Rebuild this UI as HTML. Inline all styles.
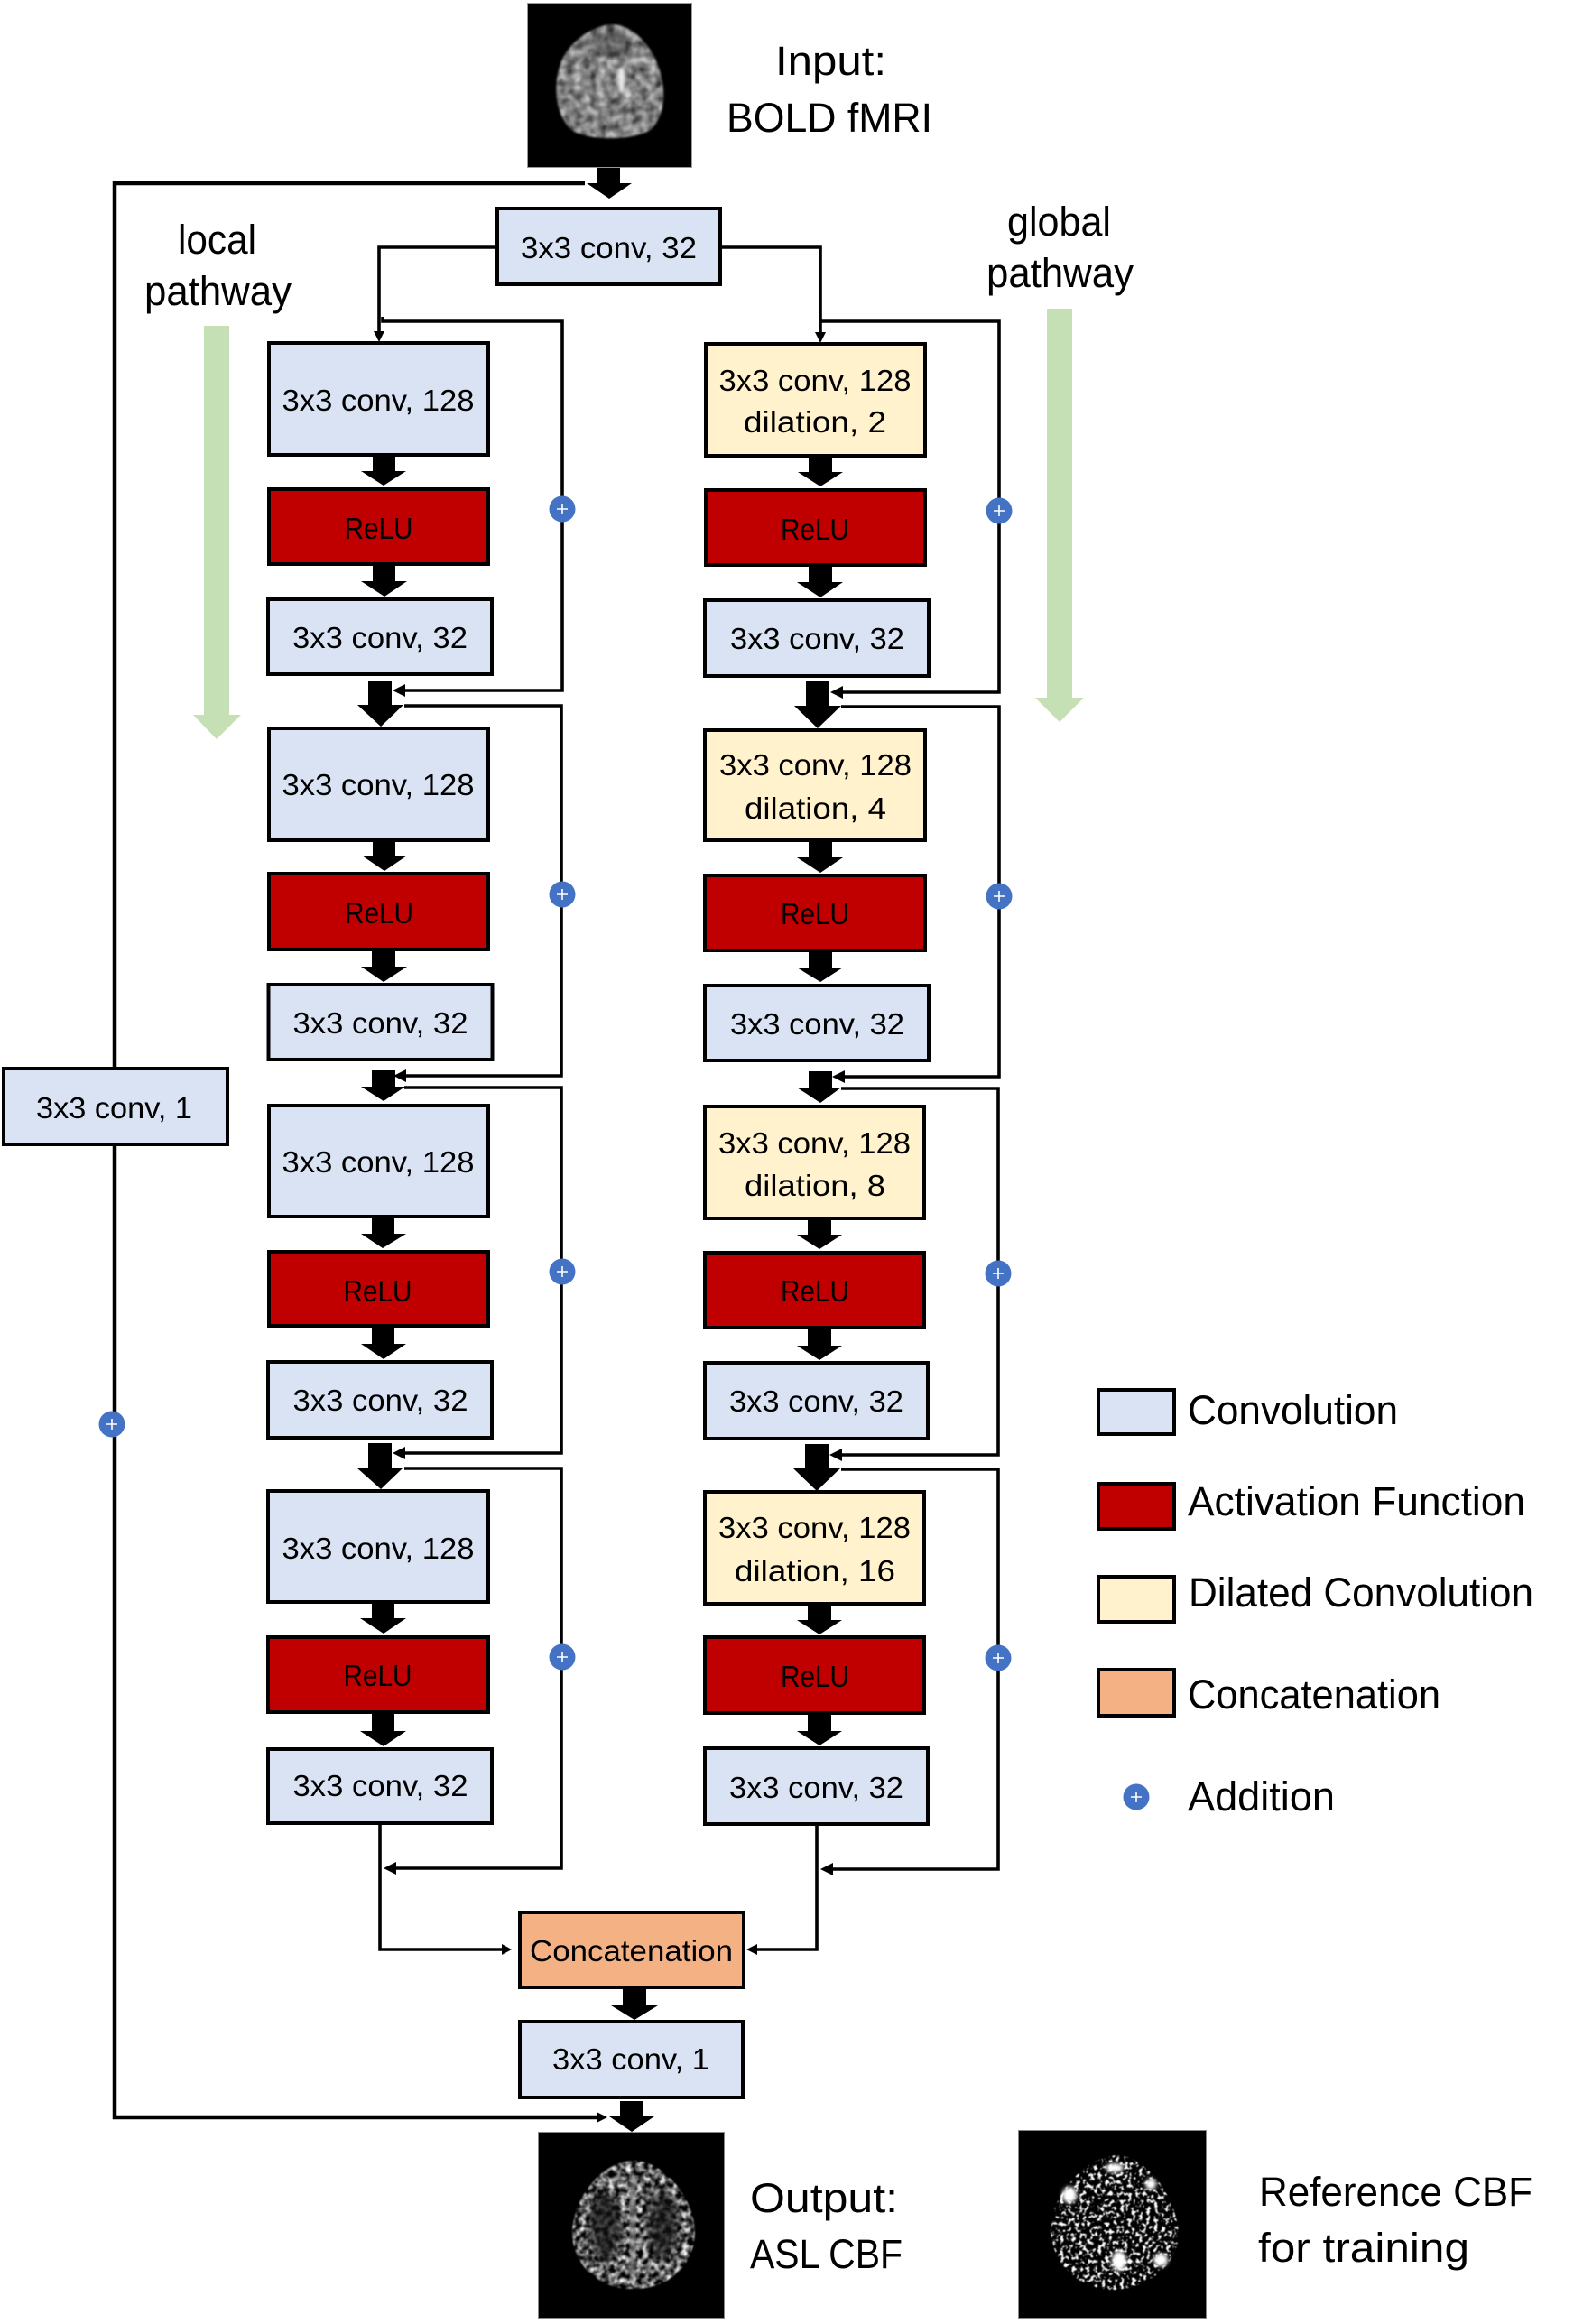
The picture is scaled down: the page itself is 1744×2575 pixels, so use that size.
<!DOCTYPE html>
<html><head><meta charset="utf-8"><title>Local and global pathway network</title>
<style>
html,body{margin:0;padding:0;background:#fff}
svg{display:block}
text{font-family:"Liberation Sans",sans-serif;fill:#000;font-size:33px}
.l{font-size:45px}
.ln{fill:none;stroke:#000;stroke-width:3.6}
.bl{fill:#dae3f3;stroke:#000;stroke-width:4}
.rd{fill:#c00000;stroke:#000;stroke-width:4}
.yl{fill:#fff2cc;stroke:#000;stroke-width:4}
.or{fill:#f4b183;stroke:#000;stroke-width:4}
.pl{stroke:#fff;stroke-width:1.6}
</style></head><body>
<svg xmlns="http://www.w3.org/2000/svg" width="1744" height="2575" viewBox="0 0 1744 2575">
<defs>
<filter id="fInput" x="-5%" y="-5%" width="110%" height="110%" color-interpolation-filters="sRGB">
<feTurbulence type="fractalNoise" baseFrequency=".11" numOctaves="2" seed="4"/>
<feColorMatrix values=".95 0 0 0 .03  .95 0 0 0 .03  .95 0 0 0 .03  0 0 0 0 1"/>
<feComposite in2="SourceAlpha" operator="in"/>
<feGaussianBlur stdDeviation="1"/>
</filter>
<filter id="fOut" x="-5%" y="-5%" width="110%" height="110%" color-interpolation-filters="sRGB">
<feTurbulence type="fractalNoise" baseFrequency=".16" numOctaves="2" seed="9"/>
<feColorMatrix values="2.2 0 0 0 -.72  2.2 0 0 0 -.72  2.2 0 0 0 -.72  0 0 0 0 1"/>
<feComposite in2="SourceAlpha" operator="in"/>
<feGaussianBlur stdDeviation=".8"/>
</filter>
<filter id="fRef" x="-5%" y="-5%" width="110%" height="110%" color-interpolation-filters="sRGB">
<feTurbulence type="fractalNoise" baseFrequency=".24" numOctaves="2" seed="12"/>
<feColorMatrix values="8 0 0 0 -4.2  8 0 0 0 -4.2  8 0 0 0 -4.2  0 0 0 0 1"/>
<feComposite in2="SourceAlpha" operator="in"/>
<feGaussianBlur stdDeviation=".6"/>
</filter>
<filter id="bl2"><feGaussianBlur stdDeviation="2"/></filter>
<filter id="bl5"><feGaussianBlur stdDeviation="5"/></filter>
</defs>
<rect width="1744" height="2575" fill="#fff"/>

<!-- input image -->
<rect x="584.5" y="3.5" width="182" height="182" fill="#000" stroke="#999" stroke-width="1"/>
<path filter="url(#fInput)" d="M676 27C700 26 722 50 730 75C738 100 738 125 722 143C705 156 650 157 632 143C615 125 612 95 622 68C632 45 655 30 676 27Z" fill="#fff"/>
<g filter="url(#bl5)"><ellipse cx="676" cy="50" rx="20" ry="14" fill="#000" opacity=".3"/></g>
<g filter="url(#bl2)"><rect x="685" y="75" width="7" height="28" rx="3" fill="#eee"/><rect x="661" y="87" width="5" height="14" rx="2" fill="#bbb"/></g>

<!-- long skip -->
<path d="M648 203H127V2346H663" fill="none" stroke="#000" stroke-width="4.5"/>
<polygon points="673,2346 661,2340 661,2352"/>

<!-- top branches -->
<path class="ln" d="M549 274H420V370"/><polygon points="420,379 414,367 426,367"/>
<path class="ln" d="M800 274H909V370"/><polygon points="909,380 903,368 915,368"/>

<!-- residuals left -->
<path class="ln" d="M424 351V356H623V765H448"/><polygon points="435,765 449,758 449,772"/>
<path class="ln" d="M448 782H622V1192H449"/><polygon points="436,1192 450,1185 450,1199"/>
<path class="ln" d="M448 1205H622V1610H449"/><polygon points="435,1610 449,1603 449,1617"/>
<path class="ln" d="M448 1627H622V2070H438"/><polygon points="425,2070 439,2063 439,2077"/>
<!-- residuals right -->
<path class="ln" d="M908 356H1107V767H934"/><polygon points="920,767 934,760 934,774"/>
<path class="ln" d="M932 783H1107V1193H935"/><polygon points="922,1193 936,1186 936,1200"/>
<path class="ln" d="M932 1206H1106V1612H933"/><polygon points="919,1612 933,1605 933,1619"/>
<path class="ln" d="M932 1628H1106V2071H922"/><polygon points="909,2071 923,2064 923,2078"/>

<!-- to concat -->
<path class="ln" d="M421 2022V2160H558"/><polygon points="567,2160 556,2154 556,2166"/>
<path class="ln" d="M905 2023V2160H838"/><polygon points="827,2160 839,2154 839,2166"/>

<!-- green arrows -->
<polygon fill="#c5e0b4" points="226,361 254,361 254,792 267,792 240,819 214,792 226,792"/>
<polygon fill="#c5e0b4" points="1160,342 1188,342 1188,773 1201,773 1174,800 1147,773 1160,773"/>

<!-- boxes left -->
<rect class="bl" x="551" y="231" width="247" height="84"/>
<rect class="bl" x="298" y="380" width="243" height="124"/>
<rect class="rd" x="298" y="542" width="243" height="83"/>
<rect class="bl" x="297" y="664" width="248" height="83"/>
<rect class="bl" x="298" y="807" width="243" height="124"/>
<rect class="rd" x="298" y="968" width="243" height="84"/>
<rect class="bl" x="297.500" y="1091" width="248" height="83"/>
<rect class="bl" x="298" y="1225" width="243" height="123"/>
<rect class="rd" x="298" y="1387" width="243" height="82"/>
<rect class="bl" x="297" y="1509" width="248" height="84"/>
<rect class="bl" x="297" y="1652" width="244" height="123"/>
<rect class="rd" x="297" y="1814" width="244" height="83"/>
<rect class="bl" x="297" y="1938" width="248" height="82"/>
<rect class="bl" x="4" y="1184" width="248" height="84"/>
<!-- boxes right -->
<rect class="yl" x="782" y="381" width="243" height="124"/>
<rect class="rd" x="782" y="543" width="243" height="83"/>
<rect class="bl" x="781" y="665" width="248" height="84"/>
<rect class="yl" x="781" y="809" width="244" height="122"/>
<rect class="rd" x="781" y="970" width="244" height="83"/>
<rect class="bl" x="781" y="1092" width="248" height="83"/>
<rect class="yl" x="781" y="1226" width="243" height="124"/>
<rect class="rd" x="781" y="1388" width="243" height="83"/>
<rect class="bl" x="781" y="1510" width="247" height="84"/>
<rect class="yl" x="781" y="1653" width="243" height="124"/>
<rect class="rd" x="781" y="1814" width="243" height="84"/>
<rect class="bl" x="781" y="1937" width="247" height="84"/>
<rect class="or" x="576" y="2119" width="248" height="83"/>
<rect class="bl" x="576" y="2240" width="247" height="84"/>

<!-- block arrows -->
<g fill="#000">
<polygon points="661,186 687,186 687,203 700,203 675,220 650,203 661,203"/>
<polygon points="413,506 438,506 438,522 450,522 425,538 400,522 413,522"/>
<polygon points="413,627 438,627 438,644 451,644 426,661 400,644 413,644"/>
<polygon points="408,754 434,754 434,781 447,781 422,805 396,781 408,781"/>
<polygon points="413,933 438,933 438,948 451,948 426,965 401,948 413,948"/>
<polygon points="412,1051 438,1051 438,1071 451,1071 425,1088 400,1071 412,1071"/>
<polygon points="412,1186 438,1186 438,1204 449,1204 425,1220 400,1204 412,1204"/>
<polygon points="412,1350 437,1350 437,1367 450,1367 424,1383 400,1367 412,1367"/>
<polygon points="412,1471 437,1471 437,1489 450,1489 425,1506 400,1489 412,1489"/>
<polygon points="408,1599 434,1599 434,1626 447,1626 422,1650 395,1626 408,1626"/>
<polygon points="412,1777 437,1777 437,1793 450,1793 425,1810 399,1793 412,1793"/>
<polygon points="412,1899 437,1899 437,1918 450,1918 425,1935 399,1918 412,1918"/>

<polygon points="896,507 922,507 922,523 934,523 909,539 884,523 896,523"/>
<polygon points="896,628 922,628 922,645 934,645 909,662 883,645 896,645"/>
<polygon points="893,755 919,755 919,782 932,782 906,807 880,782 893,782"/>
<polygon points="896,933 922,933 922,950 934,950 909,967 883,950 896,950"/>
<polygon points="896,1055 922,1055 922,1072 934,1072 909,1088 883,1072 896,1072"/>
<polygon points="896,1187 922,1187 922,1205 932,1205 909,1222 883,1205 896,1205"/>
<polygon points="895,1352 921,1352 921,1368 933,1368 908,1384 883,1368 895,1368"/>
<polygon points="895,1473 921,1473 921,1491 933,1491 908,1507 883,1491 895,1491"/>
<polygon points="892,1600 918,1600 918,1627 931,1627 905,1652 879,1627 892,1627"/>
<polygon points="895,1779 921,1779 921,1795 933,1795 908,1811 883,1795 895,1795"/>
<polygon points="895,1900 921,1900 921,1918 933,1918 908,1934 883,1918 895,1918"/>

<polygon points="690,2204 716,2204 716,2222 729,2222 703,2238 677,2222 690,2222"/>
<polygon points="687,2328 713,2328 713,2345 725,2345 700,2362 675,2345 687,2345"/>
</g>

<!-- plus nodes -->
<g fill="#4472c4">
<circle cx="623" cy="564" r="14.500"/><circle cx="623" cy="991" r="14.500"/><circle cx="623" cy="1409" r="14.500"/><circle cx="623" cy="1836" r="14.500"/>
<circle cx="1107" cy="566" r="14.500"/><circle cx="1107" cy="993" r="14.500"/><circle cx="1106" cy="1411" r="14.500"/><circle cx="1106" cy="1837" r="14.500"/>
<circle cx="124" cy="1578" r="14.500"/><circle cx="1259" cy="1991" r="14.500"/>
</g>
<path class="pl" d="M617 564h12M623 558v12M617 991h12M623 985v12M617 1409h12M623 1403v12M617 1836h12M623 1830v12M1101 566h12M1107 560v12M1101 993h12M1107 987v12M1100 1411h12M1106 1405v12M1100 1837h12M1106 1831v12M118 1578h12M124 1572v12M1253 1991h12M1259 1985v12"/>

<!-- box text -->
<text x="577" y="286" textLength="195" lengthAdjust="spacingAndGlyphs">3x3 conv, 32</text>
<text x="312.500" y="455" textLength="213" lengthAdjust="spacingAndGlyphs">3x3 conv, 128</text>
<text x="381.500" y="597" textLength="76" lengthAdjust="spacingAndGlyphs">ReLU</text>
<text x="324" y="718" textLength="194" lengthAdjust="spacingAndGlyphs">3x3 conv, 32</text>
<text x="312.500" y="881" textLength="213" lengthAdjust="spacingAndGlyphs">3x3 conv, 128</text>
<text x="382" y="1023" textLength="76" lengthAdjust="spacingAndGlyphs">ReLU</text>
<text x="324.500" y="1145" textLength="194" lengthAdjust="spacingAndGlyphs">3x3 conv, 32</text>
<text x="312.500" y="1299" textLength="213" lengthAdjust="spacingAndGlyphs">3x3 conv, 128</text>
<text x="380.500" y="1442" textLength="76" lengthAdjust="spacingAndGlyphs">ReLU</text>
<text x="324.500" y="1563" textLength="194" lengthAdjust="spacingAndGlyphs">3x3 conv, 32</text>
<text x="312.500" y="1727" textLength="213" lengthAdjust="spacingAndGlyphs">3x3 conv, 128</text>
<text x="380.500" y="1868" textLength="76" lengthAdjust="spacingAndGlyphs">ReLU</text>
<text x="324.500" y="1990" textLength="194" lengthAdjust="spacingAndGlyphs">3x3 conv, 32</text>
<text x="40" y="1239" textLength="173" lengthAdjust="spacingAndGlyphs">3x3 conv, 1</text>

<text x="796.500" y="433" textLength="213" lengthAdjust="spacingAndGlyphs">3x3 conv, 128</text>
<text x="824" y="479" textLength="158" lengthAdjust="spacingAndGlyphs">dilation, 2</text>
<text x="865" y="598" textLength="76" lengthAdjust="spacingAndGlyphs">ReLU</text>
<text x="809" y="719" textLength="193" lengthAdjust="spacingAndGlyphs">3x3 conv, 32</text>
<text x="797" y="859" textLength="213" lengthAdjust="spacingAndGlyphs">3x3 conv, 128</text>
<text x="825" y="907" textLength="157" lengthAdjust="spacingAndGlyphs">dilation, 4</text>
<text x="865" y="1024" textLength="76" lengthAdjust="spacingAndGlyphs">ReLU</text>
<text x="809" y="1146" textLength="193" lengthAdjust="spacingAndGlyphs">3x3 conv, 32</text>
<text x="796" y="1278" textLength="213" lengthAdjust="spacingAndGlyphs">3x3 conv, 128</text>
<text x="825" y="1325" textLength="156" lengthAdjust="spacingAndGlyphs">dilation, 8</text>
<text x="865" y="1442" textLength="76" lengthAdjust="spacingAndGlyphs">ReLU</text>
<text x="808" y="1564" textLength="193" lengthAdjust="spacingAndGlyphs">3x3 conv, 32</text>
<text x="796" y="1704" textLength="213" lengthAdjust="spacingAndGlyphs">3x3 conv, 128</text>
<text x="814" y="1752" textLength="178" lengthAdjust="spacingAndGlyphs">dilation, 16</text>
<text x="865" y="1869" textLength="76" lengthAdjust="spacingAndGlyphs">ReLU</text>
<text x="808" y="1992" textLength="193" lengthAdjust="spacingAndGlyphs">3x3 conv, 32</text>
<text x="587" y="2173" textLength="225" lengthAdjust="spacingAndGlyphs">Concatenation</text>
<text x="612" y="2293" textLength="174" lengthAdjust="spacingAndGlyphs">3x3 conv, 1</text>

<!-- large labels -->
<text class="l" x="859" y="83" textLength="123" lengthAdjust="spacingAndGlyphs">Input:</text>
<text class="l" x="805" y="146" textLength="228" lengthAdjust="spacingAndGlyphs">BOLD fMRI</text>
<text class="l" x="197" y="281" textLength="87" lengthAdjust="spacingAndGlyphs">local</text>
<text class="l" x="160" y="338" textLength="163" lengthAdjust="spacingAndGlyphs">pathway</text>
<text class="l" x="1116" y="261" textLength="115" lengthAdjust="spacingAndGlyphs">global</text>
<text class="l" x="1093" y="318" textLength="163" lengthAdjust="spacingAndGlyphs">pathway</text>
<text class="l" x="831" y="2451" textLength="164" lengthAdjust="spacingAndGlyphs">Output:</text>
<text class="l" x="831" y="2513" textLength="169" lengthAdjust="spacingAndGlyphs">ASL CBF</text>
<text class="l" x="1395" y="2444" textLength="303" lengthAdjust="spacingAndGlyphs">Reference CBF</text>
<text class="l" x="1394" y="2506" textLength="234" lengthAdjust="spacingAndGlyphs">for training</text>

<!-- legend -->
<rect class="bl" x="1217" y="1540" width="84" height="49"/>
<rect class="rd" x="1217" y="1644" width="84" height="50"/>
<rect class="yl" x="1217" y="1747" width="84" height="50"/>
<rect class="or" x="1217" y="1850" width="84" height="51"/>
<text class="l" x="1316" y="1578" textLength="233" lengthAdjust="spacingAndGlyphs">Convolution</text>
<text class="l" x="1316" y="1679" textLength="374" lengthAdjust="spacingAndGlyphs">Activation Function</text>
<text class="l" x="1317" y="1780" textLength="382" lengthAdjust="spacingAndGlyphs">Dilated Convolution</text>
<text class="l" x="1316" y="1893" textLength="280" lengthAdjust="spacingAndGlyphs">Concatenation</text>
<text class="l" x="1316" y="2006" textLength="163" lengthAdjust="spacingAndGlyphs">Addition</text>

<!-- output image -->
<rect x="596.500" y="2362.500" width="206" height="206" fill="#000" stroke="#888" stroke-width="1"/>
<path filter="url(#fOut)" d="M702 2394C735 2394 770 2435 770 2475C768 2515 735 2537 702 2536C668 2537 636 2515 634 2475C634 2435 668 2394 702 2394Z" fill="#fff"/>
<g filter="url(#bl5)">
<ellipse cx="670" cy="2466" rx="17" ry="40" fill="#111" opacity=".75"/>
<ellipse cx="734" cy="2466" rx="17" ry="40" fill="#111" opacity=".75"/>
</g>
<g filter="url(#bl2)"><rect x="698" y="2410" width="6" height="115" fill="#888" opacity=".75"/></g>

<!-- reference image -->
<rect x="1128.500" y="2360.500" width="208" height="208" fill="#000" stroke="#888" stroke-width="1"/>
<path filter="url(#fRef)" d="M1240 2388C1270 2392 1302 2430 1306 2475C1304 2515 1265 2537 1232 2537C1195 2535 1166 2510 1164 2470C1165 2430 1205 2388 1240 2388Z" fill="#fff"/>
<g fill="#fff" filter="url(#bl2)">
<ellipse cx="1240" cy="2505" rx="8" ry="11"/>
<ellipse cx="1286" cy="2504" rx="8" ry="7"/>
<ellipse cx="1185" cy="2432" rx="8" ry="9"/>
<ellipse cx="1275" cy="2420" rx="6" ry="6"/>
<ellipse cx="1235" cy="2402" rx="10" ry="5"/>
</g>
</svg>
</body></html>
